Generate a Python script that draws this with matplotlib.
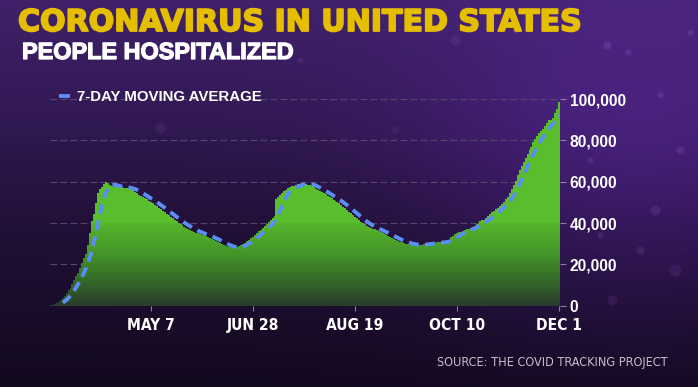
import numpy as np
import pandas as pd
import matplotlib
matplotlib.use('Agg')
import matplotlib.pyplot as plt
import matplotlib.dates as mdates
import matplotlib.patheffects as pe
from matplotlib.lines import Line2D
from matplotlib.patches import Circle

# ---------------- data ----------------
start_date = '2020-03-17'
mar = [325, 500, 800, 1200, 1800, 2600, 3500, 4600, 6000, 7400, 8800, 10500, 12400, 14200, 16000]
apr = [18000, 20500, 23000, 25000, 29500, 35000, 41000, 44500, 49500, 54500,
       56500, 57500, 58800, 59900, 59200, 58300, 57800, 57600, 57200, 57500,
       57800, 57300, 57000, 56800, 57000, 56800, 56200, 55800, 55000, 54300]
may = [53600, 53000, 52500, 52000, 51500, 50800, 50200, 49500, 48800, 48000,
       47300, 46800, 46000, 45300, 44500, 43800, 43000, 42300, 41500, 40800,
       40200, 39500, 39000, 38300, 37800, 37200, 36600, 36200, 35800, 35400, 35000]
jun = [34700, 34300, 34000, 33700, 33400, 32900, 32300, 31800, 31300, 30800,
       30300, 29800, 29300, 28900, 28500, 28300, 28100, 28000, 28100, 28400,
       28800, 29300, 29900, 30500, 31200, 31900, 32600, 33400, 34300, 35200]
jul = [36000, 36800, 37800, 38600, 39400, 40500, 41600, 42600, 43400, 51500,
       52500, 53500, 54500, 55500, 56200, 56800, 57300, 57700, 58000, 58400,
       58800, 59100, 59300, 59200, 59000, 58600, 58200, 57700, 57200, 56700, 56200]
aug = [55600, 55000, 54500, 53900, 53300, 52700, 52000, 51300, 50800, 50300,
       49500, 48700, 47900, 47100, 46300, 45500, 44700, 43900, 43100, 42300,
       41500, 40700, 39900, 39300, 38800, 38300, 37800, 37300, 36900, 36500, 36100]
sep = [35800, 35300, 34800, 34200, 33700, 33200, 32700, 32200, 31800, 31400,
       31000, 30600, 30300, 30000, 29800, 29600, 29500, 29400, 29300, 29300,
       29400, 29600, 29800, 30000, 30100, 30200, 30300, 30400, 30500, 30600]
oct_ = [30700, 30800, 30900, 31000, 31100, 32000, 33000, 33800, 34600, 35200,
        35500, 35800, 36200, 36600, 37000, 37300, 37600, 38200, 38800, 39500,
        40200, 40800, 41300, 41600, 42300, 43300, 44300, 45200, 46000, 46800, 47500]
nov = [48000, 49000, 50300, 51500, 52800, 54500, 56500, 58500, 60500, 63000,
       65700, 67500, 69500, 71500, 73500, 75300, 77000, 79000, 80500, 82000,
       83500, 84500, 85500, 87000, 88500, 89800, 90000, 91000, 93000, 95000]
dec = [98700]
hospitalized = mar + apr + may + jun + jul + aug + sep + oct_ + nov + dec

tick_dates = ['2020-05-07', '2020-06-28', '2020-08-19', '2020-10-10', '2020-12-01']
tick_labels = ['MAY 7', 'JUN 28', 'AUG 19', 'OCT 10', 'DEC 1']
y_ticks = [0, 20000, 40000, 60000, 80000, 100000]

title = 'CORONAVIRUS IN UNITED STATES'
subtitle = 'PEOPLE HOSPITALIZED'
legend_label = '7-DAY MOVING AVERAGE'
source = 'SOURCE: THE COVID TRACKING PROJECT'

# ---------------- fonts ----------------
SANS = 'Liberation Sans'
COND = 'DejaVu Sans'
WIDE = 'DejaVu Sans'

W, H = 698, 387
fig = plt.figure(figsize=(W / 100, H / 100), dpi=100)

# ---------------- background ----------------
bg = fig.add_axes([0, 0, 1, 1])
bg.axis('off')
yy, xx = np.mgrid[0:H, 0:W]
t = yy / (H - 1)
stops_t = [0, 0.3, 0.6, 1.0]
stops = np.array([[64, 33, 106], [50, 25, 84], [33, 16, 54], [19, 9, 31]], float)
img = np.stack([np.interp(t, stops_t, stops[:, c]) for c in range(3)], axis=-1)
glow = np.exp(-(((xx - 640) / 150.0) ** 2 + ((yy - 150) / 120.0) ** 2) / 2)
img += glow[..., None] * np.array([24, 9, 44])
bg.imshow(np.clip(img, 0, 255).astype(np.uint8), aspect='auto', interpolation='bilinear')
bg.set_xlim(-0.5, W - 0.5)
bg.set_ylim(H - 0.5, -0.5)
# soft bokeh specks (decoration)
for (cx, cy, rr, aa) in [(607, 45, 4, .18), (628, 52, 3, .15), (690, 32, 3, .18), (655, 210, 5, .14),
                         (640, 250, 4, .13), (600, 235, 3, .15), (675, 270, 6, .1), (515, 30, 3, .15),
                         (455, 40, 5, .1), (590, 160, 3, .15), (680, 150, 4, .15), (160, 128, 5, .1),
                         (660, 95, 3, .18), (395, 130, 4, .08), (612, 300, 5, .1), (300, 60, 3, .1)]:
    bg.add_patch(Circle((cx, cy), rr, color=(0.75, 0.45, 0.95), alpha=aa, lw=0))

# ---------------- chart ----------------
ax = fig.add_axes([50 / W, 1 - 305.7 / H, 510 / W, (305.7 - 99) / H])
ax.set_facecolor('none')
dates = pd.date_range(start_date, periods=len(hospitalized), freq='D')
x = mdates.date2num(dates)
vals = np.array(hospitalized, float)

for v in y_ticks:
    ax.axhline(v, color='#564670', lw=0.8, dashes=(6, 3), zorder=1)

# bars with a vertical shading: full bar first, then darker, shorter overlays
grad_v = [0, 12000, 25000, 40000, 100000]
grad_c = np.array([[40, 60, 44], [52, 104, 40], [68, 148, 40], [84, 180, 42], [90, 192, 44]]) / 255.0
levels = [None] + list(range(40000, 0, -1250))
for lv in levels:
    if lv is None:
        h, cv = vals, 90000
    else:
        h, cv = np.minimum(vals, lv), lv - 625
    col = [np.interp(cv, grad_v, grad_c[:, c]) for c in range(3)]
    ax.bar(x, h, width=1.08, color=col, linewidth=0, zorder=2)

ma = pd.Series(hospitalized).rolling(7).mean()
ax.plot(x, ma, color='#5a8ef2', lw=2.8, dashes=(2.6, 1.6), zorder=4)

ax.set_xlim(x[0] - 0.5, x[-1] + 0.5)
ax.set_ylim(0, 100000)
for s in ax.spines.values():
    s.set_visible(False)

ax.yaxis.tick_right()
ax.set_yticks(y_ticks)
ax.set_yticklabels([f'{v:,}' for v in y_ticks])
ax.tick_params(axis='y', length=4.5, width=0.8, color='#8c7fa0', pad=2.5,
               labelcolor='white', labelsize=13)
ax.set_xticks(mdates.date2num(pd.to_datetime(tick_dates)))
ax.set_xticklabels(tick_labels)
ax.tick_params(axis='x', length=3.5, width=0.8, color='#8c7fa0', pad=5.5,
               labelcolor='white', labelsize=13)
for lab in ax.get_xticklabels():
    lab.set_fontfamily(COND)
    lab.set_fontstretch('condensed')
    lab.set_fontweight('bold')
for lab in ax.get_yticklabels():
    lab.set_fontfamily(SANS)
    lab.set_fontweight('bold')

# ---------------- texts ----------------
t_title = fig.text(18 / W, 1 - 31 / H, title, family=WIDE, weight='bold',
                   color='#e6be00', fontsize=20, va='baseline', ha='left',
                   path_effects=[pe.withStroke(linewidth=1.3, foreground='#e6be00')])
t_sub = fig.text(22 / W, 1 - 59 / H, subtitle, family=SANS, weight='bold',
                 color='white', fontsize=17, va='baseline', ha='left',
                 path_effects=[pe.withStroke(linewidth=0.9, foreground='white')])
t_leg = fig.text(77 / W, 1 - 100.7 / H, legend_label, family=SANS, weight='bold',
                 color='white', fontsize=10.5, va='baseline', ha='left')
t_src = fig.text(668 / W, 1 - 366 / H, source, family=COND, stretch='condensed',
                 color='#c4c0c8', fontsize=9.5, va='baseline', ha='right')
fig.add_artist(Line2D([59 / W, 70 / W], [1 - 96 / H] * 2, transform=fig.transFigure,
                      color='#5a8ef2', lw=2.8, solid_capstyle='butt'))

fig.canvas.draw()
r = fig.canvas.get_renderer()


def fit(txt, target):
    bb = txt.get_window_extent(r)
    txt.set_fontsize(txt.get_fontsize() * target / bb.width)


fit(t_title, 562)
fit(t_sub, 272)
fit(t_leg, 187)
fit(t_src, 232)

xl = ax.get_xticklabels()[0]
xs = xl.get_fontsize() * 48 / xl.get_window_extent(r).width
yl = ax.get_yticklabels()[-1]
ys = yl.get_fontsize() * 57 / yl.get_window_extent(r).width
for lab in ax.get_xticklabels():
    lab.set_fontsize(xs)
for lab in ax.get_yticklabels():
    lab.set_fontsize(ys)

fig.savefig('out.png', dpi=100)
